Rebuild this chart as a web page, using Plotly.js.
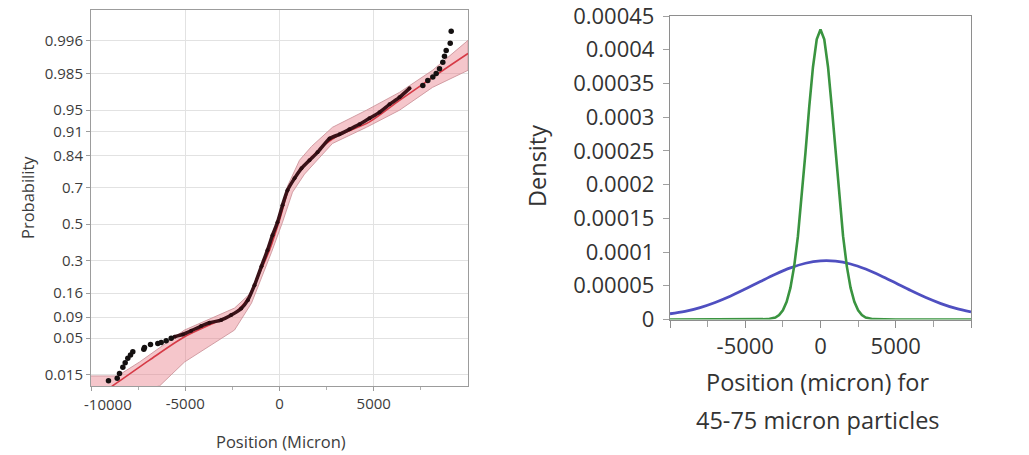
<!DOCTYPE html>
<html>
<head>
<meta charset="utf-8">
<script src="https://cdn.plot.ly/plotly-3.0.1.min.js"></script>
<style>
  html, body { margin: 0; padding: 0; background: #ffffff; }
  #chart { width: 1029px; height: 455px; }
</style>
</head>
<body>
<div id="chart"></div>
<script>
// ---- Normal probability plot (left panel) ----
const probTicks = [0.015, 0.05, 0.09, 0.16, 0.3, 0.5, 0.7, 0.84, 0.91, 0.95, 0.985, 0.996];
const probTickText = ["0.015", "0.05", "0.09", "0.16", "0.3", "0.5", "0.7", "0.84", "0.91", "0.95", "0.985", "0.996"];
const posTicks = [-10000, -5000, 0, 5000];
const posTickText = ["", "-5000", "0", "5000"];
const edgeTickText = "-10000";   // first label is kept inside the frame

// fitted distribution line
const fitPos  = [-9300, -8843, -6897, -5040, -3538, -2477, -1682, -1061, -531, 0, 531, 1236, 2122, 3000, 4775, 6366, 8133, 10000];
const fitProb = [0.0078, 0.0099, 0.0250, 0.0522, 0.0762, 0.0966, 0.142, 0.239, 0.354, 0.523, 0.704, 0.796, 0.860, 0.896, 0.930, 0.963, 0.983, 0.9931];

// confidence band edges
const bandUpperPos  = [-10000, -8594, -7427, -5040, -2387, -1592, -955, -424, 0, 424, 1061, 1698, 2812, 4615, 6366, 8117, 10000];
const bandUpperProb = [0.0143, 0.0143, 0.0234, 0.0634, 0.1131, 0.1565, 0.263, 0.381, 0.534, 0.708, 0.822, 0.869, 0.919, 0.950, 0.9714, 0.9868, 0.9960];
const bandLowerPos  = [-10000, -6366, -5040, -2387, -1485, -955, -424, 159, 690, 1326, 2100, 2812, 4615, 6366, 8117, 10000];
const bandLowerProb = [0.0056, 0.0098, 0.0234, 0.0634, 0.1275, 0.218, 0.343, 0.5115, 0.678, 0.765, 0.830, 0.878, 0.919, 0.950, 0.9758, 0.9868];

// observations: densely packed run
const runPos  = [-5570, -5130, -4684, -4154, -3714, -3093, -2562, -2032, -1682, -1326, -955, -637, -371, -106, 159, 424, 796, 1167, 1592, 2016, 2653, 3183, 3714, 4244, 4775, 5305, 5836, 6366, 6897];
const runProb = [0.0522, 0.0560, 0.0621, 0.0708, 0.0775, 0.0833, 0.0949, 0.1122, 0.1367, 0.1897, 0.2726, 0.354, 0.437, 0.5115, 0.608, 0.688, 0.746, 0.790, 0.822, 0.850, 0.8916, 0.9027, 0.9145, 0.9252, 0.9367, 0.9467, 0.9581, 0.9664, 0.9750];

// observations: separate points in the tails
const dotPos  = [-9072, -8610, -8488, -8311, -8186, -8047, -7905, -7782, -7199, -7162, -6844, -6456, -6276, -6011, -5745, 7602, 7867, 8133, 8313, 8488, 8663, 8753, 8843, 9056, 9109];
const dotProb = [0.0120, 0.0131, 0.0157, 0.0195, 0.0229, 0.0265, 0.0295, 0.0329, 0.0355, 0.0378, 0.0415, 0.0428, 0.0441, 0.0464, 0.0498, 0.9774, 0.9810, 0.9831, 0.9851, 0.9876, 0.9903, 0.9923, 0.9939, 0.9955, 0.9973];

// ---- Component densities (right panel) ----
const densityPos = [-10000, -9000, -8000, -7000, -6000, -5000, -4000, -3000, -2000, -1000, 0, 1000, 2000, 3000, 4000, 5000, 6000, 7000, 8000, 9000, 10000];
const wideDensity = [0.0000085, 0.0000120, 0.0000177, 0.0000253, 0.0000345, 0.0000451, 0.0000563, 0.0000671, 0.0000765, 0.0000834, 0.0000869, 0.0000865, 0.0000823, 0.0000748, 0.0000650, 0.0000540, 0.0000429, 0.0000325, 0.0000236, 0.0000164, 0.0000112];
const narrowPos = [-10000, -5000, -3500, -3000, -2750, -2500, -2250, -2000, -1750, -1500, -1250, -1000, -750, -500, -250, 0, 250, 500, 750, 1000, 1250, 1500, 1750, 2000, 2250, 2500, 2750, 3000, 3500, 5000, 10000];
const narrowDensity = [0, 0, 0.0000005, 0.0000029, 0.0000065, 0.0000135, 0.0000261, 0.0000469, 0.0000788, 0.0001236, 0.0001810, 0.0002471, 0.0003149, 0.0003744, 0.0004154, 0.000430, 0.0004154, 0.0003744, 0.0003149, 0.0002471, 0.0001810, 0.0001236, 0.0000788, 0.0000469, 0.0000261, 0.0000135, 0.0000065, 0.0000029, 0.0000005, 0, 0];
const densTicks = [0, 0.00005, 0.0001, 0.00015, 0.0002, 0.00025, 0.0003, 0.00035, 0.0004, 0.00045];
const densTickText = ["0", "0.00005", "0.0001", "0.00015", "0.0002", "0.00025", "0.0003", "0.00035", "0.0004", "0.00045"];
const densPosTicks = [-10000, -5000, 0, 5000, 10000];
const densPosTickText = ["", "-5000", "0", "5000", ""];

// inverse standard normal CDF (Acklam's rational approximation) for the probability scale
function probit(p) {
  const a = [-3.969683028665376e+01, 2.209460984245205e+02, -2.759285104469687e+02, 1.383577518672690e+02, -3.066479806614716e+01, 2.506628277459239e+00];
  const b = [-5.447609879822406e+01, 1.615858368580409e+02, -1.556989798598866e+02, 6.680131188771972e+01, -1.328068155288572e+01];
  const c = [-7.784894002430293e-03, -3.223964580411365e-01, -2.400758277161838e+00, -2.549732539343734e+00, 4.374664141464968e+00, 2.938163982698783e+00];
  const d = [7.784695709041462e-03, 3.224671290700398e-01, 2.445134137142996e+00, 3.754408661907416e+00];
  const plow = 0.02425, phigh = 1 - plow;
  let q, r;
  if (p < plow) {
    q = Math.sqrt(-2 * Math.log(p));
    return (((((c[0]*q + c[1])*q + c[2])*q + c[3])*q + c[4])*q + c[5]) / ((((d[0]*q + d[1])*q + d[2])*q + d[3])*q + 1);
  }
  if (p > phigh) {
    q = Math.sqrt(-2 * Math.log(1 - p));
    return -(((((c[0]*q + c[1])*q + c[2])*q + c[3])*q + c[4])*q + c[5]) / ((((d[0]*q + d[1])*q + d[2])*q + d[3])*q + 1);
  }
  q = p - 0.5; r = q * q;
  return (((((a[0]*r + a[1])*r + a[2])*r + a[3])*r + a[4])*r + a[5])*q / (((((b[0]*r + b[1])*r + b[2])*r + b[3])*r + b[4])*r + 1);
}
const toZ = arr => arr.map(probit);

const bandX = bandUpperPos.concat(bandLowerPos.slice().reverse());
const bandY = toZ(bandUpperProb).concat(toZ(bandLowerProb).slice().reverse());

const traces = [
  { // confidence band
    x: bandX, y: bandY, xaxis: 'x', yaxis: 'y',
    type: 'scatter', mode: 'lines', fill: 'toself',
    fillcolor: 'rgba(232,118,132,0.42)',
    line: { color: 'rgba(205,150,156,0.9)', width: 1 },
    hoverinfo: 'skip'
  },
  { // fitted line
    x: fitPos, y: toZ(fitProb), xaxis: 'x', yaxis: 'y',
    type: 'scatter', mode: 'lines',
    line: { color: '#d63a46', width: 1.6, shape: 'spline', smoothing: 0.8 }
  },
  { // dense observations
    x: runPos, y: toZ(runProb), xaxis: 'x', yaxis: 'y',
    type: 'scatter', mode: 'lines+markers',
    line: { color: '#3a1218', width: 3.5, shape: 'spline', smoothing: 0.6 },
    marker: { color: '#2a0c10', size: 4 }
  },
  { // tail observations
    x: dotPos, y: toZ(dotProb), xaxis: 'x', yaxis: 'y',
    type: 'scatter', mode: 'markers',
    marker: { color: '#141010', size: 5.5 }
  },
  { // wide component
    x: densityPos, y: wideDensity, xaxis: 'x2', yaxis: 'y2',
    type: 'scatter', mode: 'lines',
    line: { color: '#4f4fc0', width: 2.8, shape: 'spline', smoothing: 1 }
  },
  { // narrow component
    x: narrowPos, y: narrowDensity, xaxis: 'x2', yaxis: 'y2',
    type: 'scatter', mode: 'lines',
    line: { color: '#3a9440', width: 2.6 }
  }
];

const W = 1029, H = 455;
const px = v => v / W;
const py = v => 1 - v / H;

const leftFont = { family: 'Open Sans, sans-serif', size: 15, color: '#3c3c3c' };
const rightFont = { family: 'Open Sans, sans-serif', size: 22, color: '#333333' };
const leftTitleFont = { family: 'Open Sans, sans-serif', size: 16.5, color: '#3c3c3c' };
const rightTitleFont = { family: 'Open Sans, sans-serif', size: 23.5, color: '#333333' };

const label = (text, x, y, font, angle) => ({
  text: text, xref: 'paper', yref: 'paper', x: px(x), y: py(y),
  xanchor: 'center', yanchor: 'middle', textangle: angle || 0,
  showarrow: false, font: font
});

const layout = {
  width: W, height: H,
  margin: { l: 0, r: 0, t: 0, b: 0 },
  paper_bgcolor: '#ffffff', plot_bgcolor: '#ffffff',
  showlegend: false,
  font: leftFont,
  xaxis: {
    domain: [px(91), px(468)], range: [-10000, 10000],
    tickvals: posTicks, ticktext: posTickText, tickfont: leftFont,
    showgrid: true, gridcolor: '#e2e2e2', gridwidth: 1,
    zeroline: false, showline: true, linecolor: '#9c9c9c', linewidth: 1, mirror: true,
    ticks: 'outside', ticklen: 4, tickcolor: '#9c9c9c',
    minor: { tickvals: [-7500, -2500, 2500, 7500], ticks: 'outside', ticklen: 3, tickcolor: '#b0b0b0', showgrid: false },
    fixedrange: true
  },
  yaxis: {
    domain: [py(386), py(10)], range: [probit(0.0098), probit(0.999)],
    tickvals: toZ(probTicks), ticktext: probTickText, tickfont: leftFont,
    showgrid: true, gridcolor: '#e2e2e2', gridwidth: 1,
    zeroline: false, showline: true, linecolor: '#9c9c9c', linewidth: 1, mirror: true,
    ticks: 'outside', ticklen: 4, tickcolor: '#9c9c9c',
    fixedrange: true
  },
  xaxis2: {
    domain: [px(670), px(971)], range: [-10000, 10000], anchor: 'y2',
    tickvals: densPosTicks, ticktext: densPosTickText, tickfont: rightFont,
    showgrid: false, zeroline: false,
    showline: true, linecolor: '#8e8e8e', linewidth: 1.2, mirror: true,
    ticks: 'outside', ticklen: 7, tickcolor: '#8e8e8e',
    minor: { tickvals: [-7500, -2500, 2500, 7500], ticks: 'outside', ticklen: 6, tickcolor: '#a0a0a0', showgrid: false },
    fixedrange: true
  },
  yaxis2: {
    domain: [py(319.5), py(16)], range: [0, 0.00045], anchor: 'x2',
    tickvals: densTicks, ticktext: densTickText, tickfont: rightFont,
    showgrid: false, zeroline: false,
    showline: true, linecolor: '#8e8e8e', linewidth: 1.2, mirror: true,
    ticks: 'outside', ticklen: 6, tickcolor: '#a0a0a0', ticklabelstandoff: 4,
    ticklabeloverflow: 'allow',
    fixedrange: true
  },
  annotations: [
    label(edgeTickText, 108, 404, leftFont),
    label('Probability', 27, 198, leftTitleFont, -90),
    label('Position (Micron)', 281, 441, leftTitleFont),
    label('Density', 537, 166, rightTitleFont, -90),
    label('Position (micron) for', 817, 382, rightTitleFont),
    label('45-75 micron particles', 818, 420, rightTitleFont)
  ]
};

Plotly.newPlot('chart', traces, layout, { staticPlot: true, displayModeBar: false });
</script>
</body>
</html>
